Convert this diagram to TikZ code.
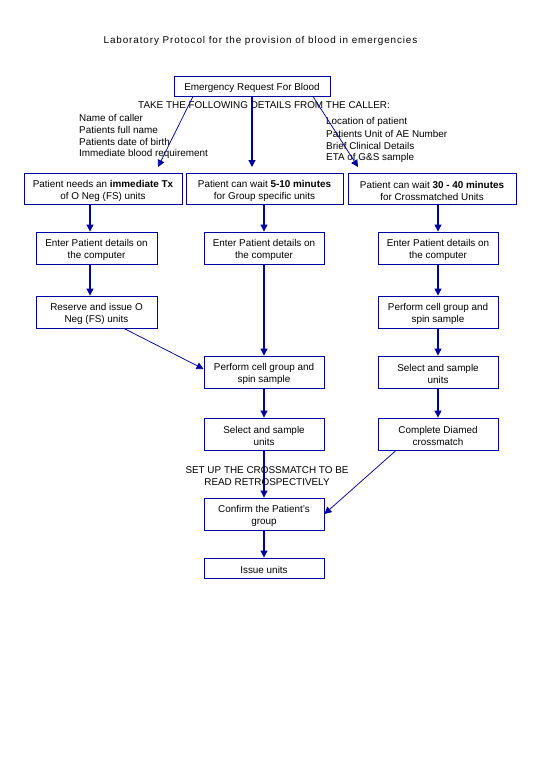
\documentclass[tikz,border=0pt]{standalone}
\usepackage{fontspec}
\setmainfont{Liberation Sans}
\usetikzlibrary{arrows.meta,calc}
\definecolor{navy}{HTML}{0000A0}
\newcommand\tup{\rule{0pt}{12pt}}
\begin{document}
\begin{tikzpicture}[x=1pt,y=-1pt,
  every node/.style={font=\fontsize{9.9}{12}\selectfont, inner sep=0pt},
  box/.style={draw=navy, line width=0.9pt, align=center, minimum width=120pt, minimum height=32pt},
  onebox/.style={box, minimum height=20pt, execute at begin node={\rule{0pt}{10.2pt}}},
  lbl/.style={anchor=west, align=left},
  arr/.style={draw=navy, line width=1.1pt, -{Triangle[length=7pt,width=7pt]}},
  thinarr/.style={draw=navy, line width=0.75pt, -{Triangle[length=7pt,width=7pt]}}]
\useasboundingbox (0,0) rectangle (540,780);
\fill[white] (0,0) rectangle (540,780);

% title
\node (title) at (260.5,41) {\addfontfeature{LetterSpace=9}Laboratory Protocol for the provision of blood in emergencies};

% request box
\node[onebox, minimum width=156pt] (req) at (252,86) {Emergency Request For Blood};
\node (take) at (264,105) {TAKE THE FOLLOWING DETAILS FROM THE CALLER:};

% detail lists
\node[lbl] (l1) at (79,118) {Name of caller};
\node[lbl] (l2) at (79,130) {Patients full name};
\node[lbl] (l3) at (79,142) {Patients date of birth};
\node[lbl] (l4) at (79,154) {Immediate blood requirement};
\node[lbl] (r1l) at (326,122) {Location of patient};
\node[lbl] (r2l) at (326,134) {Patients Unit of AE Number};
\node[lbl] (r3l) at (326,146) {Brief Clinical Details};
\node[lbl] (r4l) at (326,158) {ETA of G\&S sample};

% row 1
\node[box, minimum width=158pt, minimum height=31pt] (n1) at (103,188.5) {\tup Patient needs an \textbf{immediate Tx}\\of O Neg (FS) units};
\node[box, minimum width=157pt, minimum height=31pt] (n2) at (264.5,188.5) {\tup Patient can wait \textbf{5-10 minutes}\\for Group specific units};
\node[box, minimum width=168pt, minimum height=31pt] (n3) at (432,188.5) {\tup Patient can wait \textbf{30 - 40 minutes}\\for Crossmatched Units};

% row 2
\node[box, minimum width=121pt] (e1) at (96.5,248) {\tup Enter Patient details on\\the computer};
\node[box] (e2) at (264,248) {\tup Enter Patient details on\\the computer};
\node[box] (e3) at (438,248) {\tup Enter Patient details on\\the computer};

% row 3
\node[box, minimum width=121pt] (rs) at (96.5,312) {\tup Reserve and issue O\\Neg (FS) units};
\node[box] (p3) at (438,312) {\tup Perform cell group and\\spin sample};

% row 4
\node[box] (p2) at (264,372) {\tup Perform cell group and\\spin sample};
\node[box] (s3) at (438,372) {\tup Select and sample\\units};

% row 5
\node[box] (s2) at (264,434) {\tup Select and sample\\units};
\node[box] (d3) at (438,434) {\tup Complete Diamed\\crossmatch};

\node[align=center] (setup) at (267,476) {SET UP THE CROSSMATCH TO BE\\READ RETROSPECTIVELY};

\node[box] (cf) at (264,514) {\tup Confirm the Patient's\\group};
\node[onebox] (iu) at (264,568) {Issue units};

% column coordinates
\coordinate (c1) at (90,0);
\coordinate (tl) at (158,167);
\coordinate (tm) at (252,167);
\coordinate (tr) at (358,167);

% connectors from request
\draw[thinarr] ($(req.south)+(-59,0)$) -- (tl);
\draw[arr] (req.south) -- (tm);
\draw[thinarr] ($(req.south)+(61,0)$) -- (tr);

% column 1
\draw[arr] (n1.south -| c1) -- (e1.north -| c1);
\draw[arr] (e1.south -| c1) -- (rs.north -| c1);
\draw[thinarr] ($(rs.south)+(27.5,0)$) -- ($(p2.west)+(0,-3)$);

% column 2
\draw[arr] (n2.south -| e2.north) -- (e2.north);
\draw[arr] (e2.south) -- (p2.north);
\draw[arr] (p2.south) -- (s2.north);
\draw[arr] (s2.south) -- (cf.north);
\draw[arr] (cf.south) -- (iu.north);

% column 3
\draw[arr] (n3.south -| e3.north) -- (e3.north);
\draw[arr] (e3.south) -- (p3.north);
\draw[arr] (p3.south) -- (s3.north);
\draw[arr] (s3.south) -- (d3.north);
\draw[thinarr] ($(d3.south)+(-42,0)$) -- (cf.east);
\end{tikzpicture}
\end{document}
